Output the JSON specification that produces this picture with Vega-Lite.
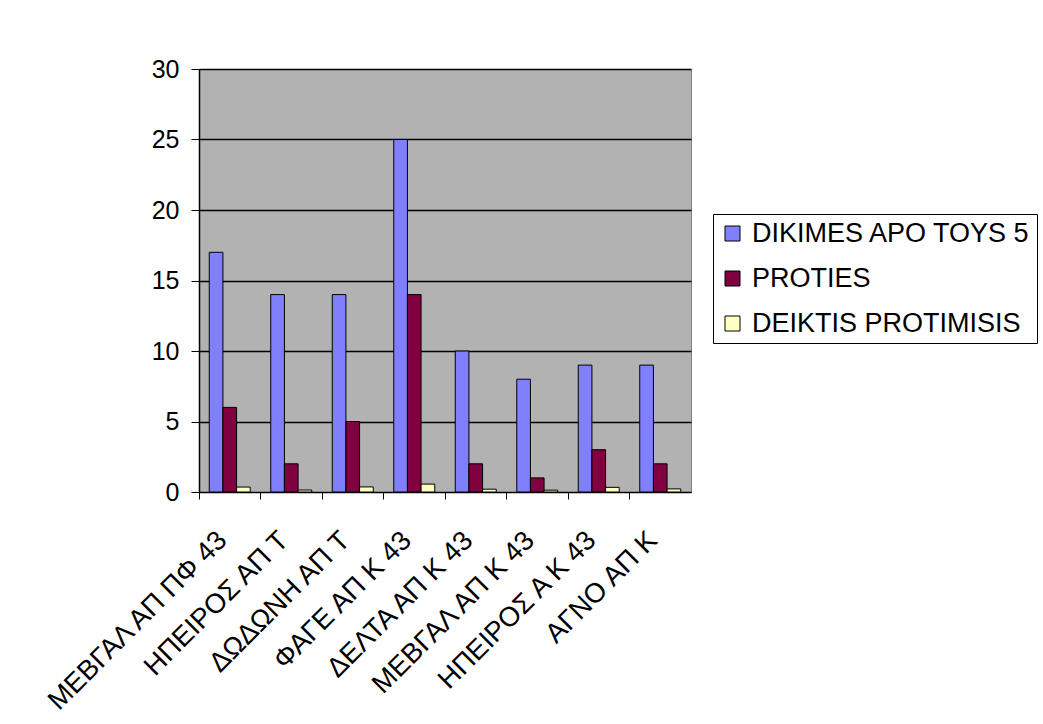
{
  "$schema": "https://vega.github.io/schema/vega-lite/v6.json",
  "width": 492,
  "height": 423,
  "autosize": "none",
  "padding": {"left": 199, "top": 69, "right": 352, "bottom": 232},
  "background": "white",
  "config": {
    "font": "Liberation Sans",
    "view": {"fill": "#B2B2B2", "stroke": "#808080", "strokeWidth": 1}
  },
  "data": {
    "values": [
      {"product": "ΜΕΒΓΑΛ ΑΠ ΠΦ 43", "series": "DIKIMES APO TOYS 5", "value": 17},
      {"product": "ΜΕΒΓΑΛ ΑΠ ΠΦ 43", "series": "PROTIES", "value": 6},
      {"product": "ΜΕΒΓΑΛ ΑΠ ΠΦ 43", "series": "DEIKTIS PROTIMISIS", "value": 0.35},
      {"product": "ΗΠΕΙΡΟΣ ΑΠ Τ", "series": "DIKIMES APO TOYS 5", "value": 14},
      {"product": "ΗΠΕΙΡΟΣ ΑΠ Τ", "series": "PROTIES", "value": 2},
      {"product": "ΗΠΕΙΡΟΣ ΑΠ Τ", "series": "DEIKTIS PROTIMISIS", "value": 0.14},
      {"product": "ΔΩΔΩΝΗ ΑΠ Τ", "series": "DIKIMES APO TOYS 5", "value": 14},
      {"product": "ΔΩΔΩΝΗ ΑΠ Τ", "series": "PROTIES", "value": 5},
      {"product": "ΔΩΔΩΝΗ ΑΠ Τ", "series": "DEIKTIS PROTIMISIS", "value": 0.36},
      {"product": "ΦΑΓΕ ΑΠ Κ 43", "series": "DIKIMES APO TOYS 5", "value": 25},
      {"product": "ΦΑΓΕ ΑΠ Κ 43", "series": "PROTIES", "value": 14},
      {"product": "ΦΑΓΕ ΑΠ Κ 43", "series": "DEIKTIS PROTIMISIS", "value": 0.56},
      {"product": "ΔΕΛΤΑ ΑΠ Κ 43", "series": "DIKIMES APO TOYS 5", "value": 10},
      {"product": "ΔΕΛΤΑ ΑΠ Κ 43", "series": "PROTIES", "value": 2},
      {"product": "ΔΕΛΤΑ ΑΠ Κ 43", "series": "DEIKTIS PROTIMISIS", "value": 0.2},
      {"product": "ΜΕΒΓΑΛ ΑΠ Κ 43", "series": "DIKIMES APO TOYS 5", "value": 8},
      {"product": "ΜΕΒΓΑΛ ΑΠ Κ 43", "series": "PROTIES", "value": 1},
      {"product": "ΜΕΒΓΑΛ ΑΠ Κ 43", "series": "DEIKTIS PROTIMISIS", "value": 0.13},
      {"product": "ΗΠΕΙΡΟΣ Α Κ 43", "series": "DIKIMES APO TOYS 5", "value": 9},
      {"product": "ΗΠΕΙΡΟΣ Α Κ 43", "series": "PROTIES", "value": 3},
      {"product": "ΗΠΕΙΡΟΣ Α Κ 43", "series": "DEIKTIS PROTIMISIS", "value": 0.33},
      {"product": "ΑΓΝΟ ΑΠ Κ", "series": "DIKIMES APO TOYS 5", "value": 9},
      {"product": "ΑΓΝΟ ΑΠ Κ", "series": "PROTIES", "value": 2},
      {"product": "ΑΓΝΟ ΑΠ Κ", "series": "DEIKTIS PROTIMISIS", "value": 0.22}
    ]
  },
  "mark": {"type": "bar", "stroke": "black", "strokeWidth": 1},
  "encoding": {
    "x": {
      "field": "product",
      "type": "nominal",
      "sort": null,
      "title": null,
      "scale": {"paddingInner": 0, "paddingOuter": 0},
      "axis": {
        "bandPosition": 0,
        "labelAngle": -45,
        "labelAlign": "right",
        "labelBaseline": "top",
        "labelFontSize": 27.5,
        "labelColor": "black",
        "labelPadding": 27,
        "labelOffset": -17,
        "labelLimit": 0,
        "labelOverlap": false,
        "tickSize": 7,
        "tickColor": "black",
        "domainColor": "black",
        "domainWidth": 1,
        "grid": false
      }
    },
    "xOffset": {
      "field": "series",
      "sort": ["DIKIMES APO TOYS 5", "PROTIES", "DEIKTIS PROTIMISIS"],
      "scale": {"paddingInner": 0, "paddingOuter": 0.75}
    },
    "y": {
      "field": "value",
      "type": "quantitative",
      "title": null,
      "scale": {"domain": [0, 30]},
      "axis": {
        "values": [0, 5, 10, 15, 20, 25, 30],
        "grid": true,
        "gridColor": "black",
        "gridOpacity": 1,
        "gridWidth": 1.5,
        "labelFontSize": 25,
        "labelColor": "black",
        "labelPadding": 12,
        "tickSize": 8,
        "tickColor": "black",
        "domainColor": "black",
        "domainWidth": 1.5
      }
    },
    "color": {
      "field": "series",
      "type": "nominal",
      "sort": ["DIKIMES APO TOYS 5", "PROTIES", "DEIKTIS PROTIMISIS"],
      "scale": {
        "domain": ["DIKIMES APO TOYS 5", "PROTIES", "DEIKTIS PROTIMISIS"],
        "range": ["#8080FF", "#800040", "#FFFFC0"]
      },
      "legend": {
        "title": null,
        "orient": "none",
        "legendX": 514,
        "legendY": 145,
        "strokeColor": "black",
        "fillColor": "white",
        "padding": 6,
        "rowPadding": 17,
        "labelFontSize": 27,
        "labelColor": "black",
        "labelOffset": 6,
        "labelLimit": 0,
        "symbolType": "square",
        "symbolSize": 225,
        "symbolStrokeColor": "black",
        "symbolStrokeWidth": 1
      }
    }
  }
}
